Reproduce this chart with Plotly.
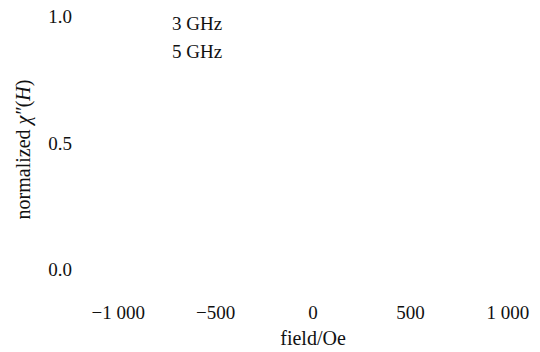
import plotly.graph_objects as go

# Series: frequency labels and their field sweeps (no samples plotted)
series_names = ["3 GHz", "5 GHz"]
field_3ghz = [None]
chi_3ghz = [None]
field_5ghz = [None]
chi_5ghz = [None]

# Axis ticks
x_tickvals = [-1000, -500, 0, 500, 1000]
x_ticktext = ["\u22121 000", "\u2212500", "0", "500", "1 000"]
y_tickvals = [0.0, 0.5, 1.0]
y_ticktext = ["0.0", "0.5", "1.0"]

FONT = "Liberation Serif, Times New Roman, serif"

fig = go.Figure()
for name, xs, ys in [(series_names[0], field_3ghz, chi_3ghz),
                     (series_names[1], field_5ghz, chi_5ghz)]:
    fig.add_trace(go.Scatter(
        x=xs, y=ys, name=name, mode="lines",
        line=dict(color="rgba(0,0,0,0)", width=0),
    ))

fig.update_layout(
    width=540, height=352,
    margin=dict(l=89, r=3, t=4, b=57),
    paper_bgcolor="white", plot_bgcolor="white",
    font=dict(family=FONT, size=19, color="#111"),
    showlegend=True,
    legend=dict(x=0.096, y=1.0, xanchor="left", yanchor="top",
                bgcolor="rgba(0,0,0,0)", font=dict(size=19),
                itemwidth=30, tracegroupgap=0),
)
fig.update_xaxes(
    range=[-1150, 1150], tickvals=x_tickvals, ticktext=x_ticktext,
    showgrid=False, zeroline=False, showline=False, ticks="",
    ticklabelstandoff=4,
    title=dict(text="field/Oe", standoff=8, font=dict(size=20)),
)
fig.update_yaxes(
    range=[-0.1, 1.05], tickvals=y_tickvals, ticktext=y_ticktext,
    showgrid=False, zeroline=False, showline=False, ticks="",
    ticklabelstandoff=16,
    title=dict(text="normalized <i>\u03c7\u2033</i>(<i>H</i>)", standoff=12,
               font=dict(size=20)),
)

fig.write_html("out.html")
